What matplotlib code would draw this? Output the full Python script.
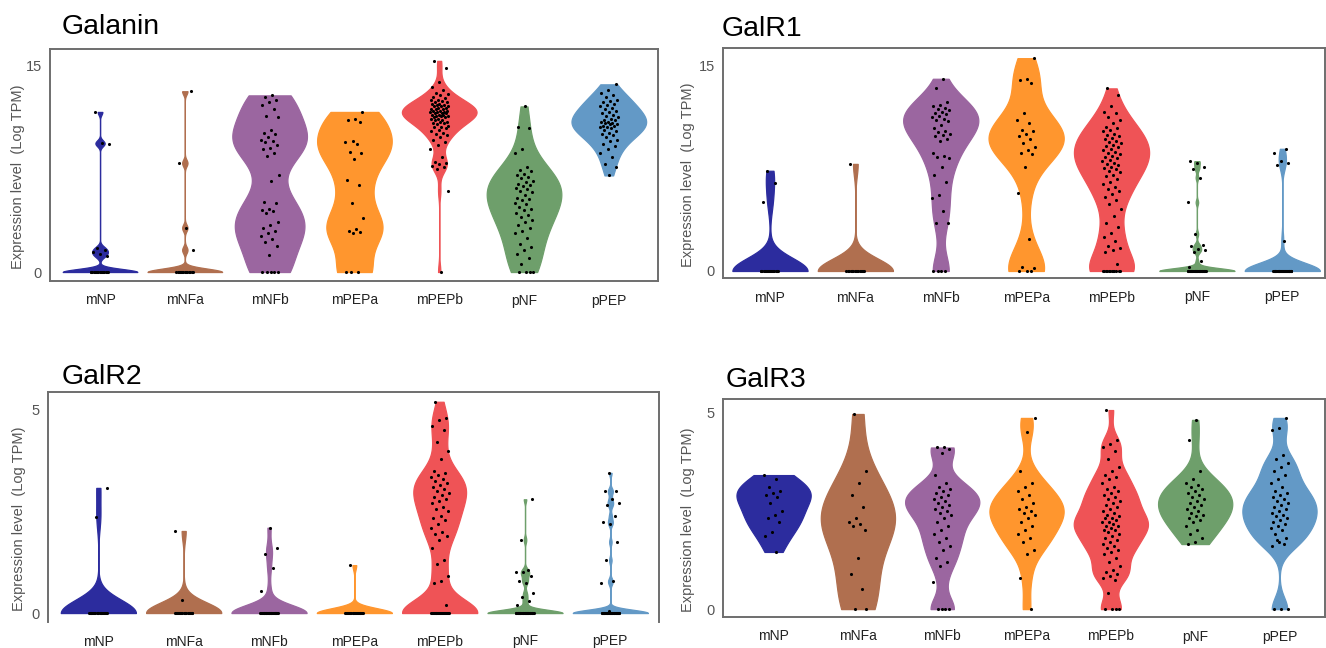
import numpy as np
import matplotlib
matplotlib.use("Agg")
import matplotlib.pyplot as plt

plt.rcParams['font.family'] = ['Liberation Sans', 'DejaVu Sans']

categories = ['mNP', 'mNFa', 'mNFb', 'mPEPa', 'mPEPb', 'pNF', 'pPEP']
colors = ['#2c2c9e', '#b06f4f', '#9b66a0', '#ff962e', '#ef5356', '#6e9f6b', '#6399c6']

# ---------------- Galanin ----------------
galanin_mNP = [0, 0, 0, 0, 0, 0, 0, 0, 0, 0, 0, 0, 0, 0, 0, 0,
               1.15, 1.3, 1.45, 1.6, 1.75, 9.3, 9.35, 11.6]
galanin_mNFa = [0, 0, 0, 0, 0, 0, 0, 0, 0, 0, 0, 0, 0, 0, 1.6, 3.2, 7.9, 13.1]
galanin_mNFb = [12.8, 12.7, 12.5, 12.3, 12.1, 11.8, 11.3, 11.2, 10.3, 10.1, 10.0, 9.8, 9.6,
                9.5, 9.4, 9.2, 9.0, 8.9, 8.6, 8.4, 7.0, 6.6, 5.1, 5.0, 4.6, 4.5, 4.4, 4.3,
                3.6, 3.4, 3.2, 3.0, 2.8, 2.6, 2.4, 2.2, 1.9, 1.2, 0, 0, 0, 0, 0]
galanin_mPEPa = [11.6, 11.1, 11.0, 10.9, 9.5, 9.4, 9.3, 8.7, 8.6, 8.2, 6.7, 6.3, 5.0, 3.9,
                 3.1, 3.0, 2.9, 2.8, 0, 0, 0]
galanin_mPEPb = [15.3, 14.8, 13.8, 13.4, 13.2, 13.0, 12.9, 12.8, 12.7, 12.6, 12.5, 12.5, 12.4,
                 12.3, 12.3, 12.2, 12.2, 12.1, 12.1, 12.0, 12.0, 12.0, 11.9, 11.9, 11.8, 11.8,
                 11.8, 11.7, 11.7, 11.7, 11.6, 11.6, 11.6, 11.5, 11.5, 11.5, 11.4, 11.4, 11.4,
                 11.3, 11.3, 11.3, 11.2, 11.2, 11.1, 11.1, 11.0, 11.0, 10.9, 10.9, 10.8, 10.8,
                 10.7, 10.6, 10.5, 10.5, 10.4, 10.3, 10.2, 10.1, 10.0, 9.9, 9.8, 9.6, 9.4, 9.2,
                 8.9, 8.3, 8.0, 7.9, 7.8, 7.7, 7.6, 7.5, 5.9, 0]
galanin_pNF = [12.0, 10.5, 10.4, 8.9, 8.6, 7.6, 7.4, 7.3, 7.1, 7.0, 6.9, 6.8, 6.6, 6.5, 6.4,
               6.3, 6.2, 6.1, 6.0, 5.9, 5.8, 5.6, 5.4, 5.3, 5.2, 5.0, 4.9, 4.7, 4.6, 4.5, 4.3,
               4.1, 4.0, 3.8, 3.6, 3.4, 3.2, 3.0, 2.8, 2.5, 2.0, 1.8, 1.6, 1.3, 1.0, 0.6,
               0, 0, 0, 0]
galanin_pPEP = [13.6, 13.2, 13.0, 12.8, 12.7, 12.5, 12.4, 12.3, 12.2, 12.1, 12.0, 11.9, 11.8,
                11.7, 11.6, 11.5, 11.4, 11.3, 11.2, 11.1, 11.0, 11.0, 10.9, 10.9, 10.8, 10.8,
                10.7, 10.7, 10.6, 10.6, 10.5, 10.5, 10.4, 10.3, 10.2, 10.1, 10.0, 9.9, 9.8,
                9.6, 9.5, 9.3, 9.1, 8.9, 8.6, 8.3, 7.8, 7.6, 7.0]

# ---------------- GalR1 ----------------
galr1_mNP = [0, 0, 0, 0, 0, 0, 0, 0, 0, 0, 0, 0, 0, 0, 0, 0, 0, 0, 5.0, 6.4, 7.3]
galr1_mNFa = [0, 0, 0, 0, 0, 0, 0, 0, 0, 0, 0, 0, 0, 0, 0, 0, 7.8]
galr1_mNFb = [14.0, 13.3, 12.3, 12.1, 12.0, 11.9, 11.8, 11.7, 11.6, 11.5, 11.4, 11.3, 11.2,
              11.1, 11.0, 10.9, 10.6, 10.4, 10.2, 10.1, 10.0, 9.9, 9.8, 9.6, 9.5, 8.6, 8.4,
              8.3, 8.2, 7.6, 7.0, 6.5, 5.5, 5.3, 4.4, 3.5, 3.5, 0, 0, 0, 0]
galr1_mPEPa = [15.5, 14.0, 13.9, 13.7, 11.5, 11.0, 10.8, 10.3, 10.2, 10.0, 9.8, 9.6, 9.3, 9.0,
               8.8, 8.6, 8.5, 7.6, 5.7, 2.3, 0.3, 0.2, 0, 0, 0]
galr1_mPEPb = [13.3, 12.8, 12.0, 11.6, 11.5, 11.2, 11.0, 10.8, 10.5, 10.4, 10.3, 10.2, 10.0,
               9.9, 9.8, 9.7, 9.6, 9.5, 9.4, 9.3, 9.2, 9.1, 9.0, 8.9, 8.8, 8.7, 8.6, 8.5, 8.4,
               8.3, 8.2, 8.1, 8.0, 7.9, 7.8, 7.7, 7.6, 7.5, 7.4, 7.3, 7.2, 7.0, 6.9, 6.7, 6.5,
               6.3, 6.1, 6.0, 5.8, 5.6, 5.4, 5.2, 4.9, 4.5, 4.0, 3.5, 3.2, 2.8, 2.5, 2.2, 1.8,
               1.7, 1.5, 1.4, 0.5, 0, 0, 0, 0, 0, 0, 0, 0, 0, 0, 0, 0]
galr1_pNF = [0, 0, 0, 0, 0, 0, 0, 0, 0, 0, 0, 0, 0, 0, 0, 0, 0, 0, 0, 0, 0, 0, 0, 0, 0,
             0, 0, 0, 0, 0, 0.3, 0.7, 1.4, 1.5, 1.6, 1.8, 1.9, 2.7, 5.0, 6.8, 7.4, 7.6, 7.9, 8.0]
galr1_pPEP = [0, 0, 0, 0, 0, 0, 0, 0, 0, 0, 0, 0, 0, 0, 0, 0, 0, 0, 0, 0, 0, 0, 0, 0, 0,
              0, 0, 0, 0, 0, 0, 0, 0, 0, 0, 0, 0, 0, 0, 0,
              2.2, 7.7, 7.9, 8.0, 8.6, 8.9]

# ---------------- GalR2 ----------------
galr2_mNP = [0, 0, 0, 0, 0, 0, 0, 0, 0, 0, 0, 0, 0, 0, 0, 0, 0, 0, 0, 0, 2.37, 3.08]
galr2_mNFa = [0, 0, 0, 0, 0, 0, 0, 0, 0, 0, 0, 0, 0, 0, 0, 0, 0, 0, 0.32, 2.02]
galr2_mNFb = [0, 0, 0, 0, 0, 0, 0, 0, 0, 0, 0, 0, 0, 0, 0, 0, 0, 0, 0, 0, 0, 0, 0, 0, 0,
              0.55, 1.1, 1.45, 1.6, 2.1]
galr2_mPEPa = [0, 0, 0, 0, 0, 0, 0, 0, 0, 0, 0, 0, 0, 0, 0, 0, 0, 0, 0, 0, 1.18]
galr2_mPEPb = [5.2, 4.8, 4.75, 4.6, 4.5, 4.2, 4.0, 3.8, 3.5, 3.45, 3.4, 3.35, 3.3, 3.25, 3.2,
               3.15, 3.1, 3.05, 3.0, 2.95, 2.9, 2.85, 2.8, 2.75, 2.7, 2.6, 2.55, 2.5, 2.4,
               2.35, 2.3, 2.2, 2.1, 2.0, 1.95, 1.9, 1.8, 1.6, 1.3, 1.2, 0.9, 0.8, 0.75, 0.2,
               0, 0, 0, 0, 0, 0, 0, 0, 0, 0, 0, 0, 0, 0, 0, 0, 0, 0, 0, 0]
galr2_pNF = [0, 0, 0, 0, 0, 0, 0, 0, 0, 0, 0, 0, 0, 0, 0, 0, 0, 0, 0, 0, 0, 0, 0, 0, 0, 0,
             0, 0, 0, 0, 0.2, 0.3, 0.4, 0.5, 0.75, 0.8, 0.9, 1.0, 1.0, 1.05, 1.8, 2.8]
galr2_pPEP = [0, 0, 0, 0, 0, 0, 0, 0, 0, 0, 0, 0, 0, 0, 0, 0, 0, 0, 0, 0, 0, 0, 0, 0, 0, 0,
              0, 0, 0, 0, 0.05, 0.75, 0.8, 1.3, 1.75, 2.2, 2.25, 2.4, 2.65, 2.7, 2.8, 3.0,
              3.0, 3.45]

# ---------------- GalR3 ----------------
galr3_mNP = [3.4, 3.3, 3.1, 3.0, 2.95, 2.9, 2.85, 2.7, 2.5, 2.4, 2.3, 2.2, 1.95, 1.85, 1.45]
galr3_mNFa = [4.95, 3.5, 3.2, 2.9, 2.6, 2.3, 2.2, 2.15, 2.1, 2.0, 1.3, 0.9, 0.5, 0, 0]
galr3_mNFb = [4.1, 4.1, 4.05, 3.95, 3.4, 3.2, 3.1, 3.05, 3.0, 2.95, 2.9, 2.85, 2.8, 2.75, 2.7,
              2.65, 2.6, 2.55, 2.5, 2.45, 2.4, 2.3, 2.2, 2.1, 2.0, 1.9, 1.8, 1.7, 1.6, 1.5,
              1.3, 1.2, 1.1, 0.7, 0, 0, 0, 0]
galr3_mPEPa = [4.85, 4.5, 3.5, 3.2, 3.1, 3.0, 2.9, 2.8, 2.7, 2.6, 2.55, 2.5, 2.45, 2.4, 2.3,
               2.2, 2.1, 2.0, 1.9, 1.8, 1.7, 1.5, 1.4, 0.8, 0]
galr3_mPEPb = [5.05, 4.3, 4.2, 4.1, 4.0, 3.8, 3.6, 3.5, 3.4, 3.35, 3.3, 3.2, 3.1, 3.05, 3.0,
               2.95, 2.9, 2.85, 2.8, 2.75, 2.7, 2.65, 2.6, 2.55, 2.5, 2.45, 2.4, 2.35, 2.3,
               2.3, 2.25, 2.2, 2.2, 2.15, 2.1, 2.1, 2.05, 2.0, 2.0, 1.95, 1.9, 1.85, 1.8, 1.75,
               1.7, 1.65, 1.6, 1.55, 1.5, 1.45, 1.4, 1.3, 1.2, 1.1, 1.0, 0.95, 0.9, 0.85, 0.8,
               0.75, 0.4, 0, 0, 0, 0]
galr3_pNF = [4.8, 4.3, 3.5, 3.3, 3.2, 3.15, 3.1, 3.05, 3.0, 2.95, 2.9, 2.85, 2.8, 2.75, 2.7,
             2.65, 2.6, 2.55, 2.5, 2.45, 2.4, 2.35, 2.3, 2.25, 2.2, 2.1, 2.0, 1.9, 1.8, 1.7, 1.65]
galr3_pPEP = [4.85, 4.6, 4.55, 3.9, 3.8, 3.7, 3.6, 3.5, 3.4, 3.3, 3.2, 3.1, 3.0, 2.95, 2.9,
              2.85, 2.8, 2.75, 2.7, 2.65, 2.6, 2.55, 2.5, 2.45, 2.4, 2.35, 2.3, 2.25, 2.2,
              2.15, 2.1, 2.05, 2.0, 1.9, 1.8, 1.7, 1.6, 1.65, 1.75, 0, 0, 0]

titles = ['Galanin', 'GalR1', 'GalR2', 'GalR3']
ytick_values = [[0, 15], [0, 15], [0, 5], [0, 5]]
ylabel_text = 'Expression level  (Log TPM)'

panel_data = [
    [galanin_mNP, galanin_mNFa, galanin_mNFb, galanin_mPEPa, galanin_mPEPb, galanin_pNF, galanin_pPEP],
    [galr1_mNP, galr1_mNFa, galr1_mNFb, galr1_mPEPa, galr1_mPEPb, galr1_pNF, galr1_pPEP],
    [galr2_mNP, galr2_mNFa, galr2_mNFb, galr2_mPEPa, galr2_mPEPb, galr2_pNF, galr2_pPEP],
    [galr3_mNP, galr3_mNFa, galr3_mNFb, galr3_mPEPa, galr3_mPEPb, galr3_pNF, galr3_pPEP],
]

# ---- styling / layout (pixels) ----
W, H = 1326, 648
# kernel bandwidths in data units (style)
bandwidths = [
    [0.22, 0.25, 1.35, 1.3, 0.55, 1.35, 0.8],
    [0.95, 0.9, 1.2, 1.4, 1.1, 0.2, 0.6],
    [0.33, 0.25, 0.2, 0.12, 0.33, 0.08, 0.08],
    [0.3, 0.7, 0.3, 0.35, 0.25, 0.35, 0.3],
]
boxes = [  # left, top, right, bottom in px
    (50, 49, 658, 281),
    (723, 48, 1325, 278),
    (48, 392, 659, 622),
    (723, 399, 1325, 617),
]
ylims = [(-0.65, 16.16), (-0.51, 16.24), (-0.22, 5.44), (-0.20, 5.33)]
xlims = [(-0.59, 6.58), (-0.55, 6.5), (-0.59, 6.57), (-0.6, 6.54)]
title_pos = [(62, 34), (722, 36), (62, 384), (726, 387)]
ylabel_x = [18, 688, 19, 688]

fig = plt.figure(figsize=(W / 100, H / 100), dpi=100)
fig.patch.set_facecolor('white')

for p in range(4):
    l, t, r, b = boxes[p]
    ax = fig.add_axes([l / W, 1 - b / H, (r - l) / W, (b - t) / H])
    for i, vals in enumerate(panel_data[p]):
        arr = np.asarray(vals, dtype=float)
        sd = np.std(arr, ddof=1)
        factor = bandwidths[p][i] / sd
        parts = ax.violinplot([arr], positions=[i], widths=0.88, showextrema=False,
                              bw_method=factor, points=500)
        for body in parts['bodies']:
            body.set_facecolor(colors[i])
            body.set_edgecolor(colors[i])
            body.set_alpha(1)
            body.set_linewidth(0.9)
        k = np.arange(len(arr))
        jit = ((k * 0.6180339887 + 0.31 * i) % 1.0 - 0.5) * 0.22
        ax.scatter(i + jit, arr, s=5, color='black', linewidths=0, zorder=3)
    ax.set_xlim(*xlims[p])
    ax.set_ylim(*ylims[p])
    ax.set_xticks(range(len(categories)))
    ax.set_xticklabels(categories, fontsize=10, color='#222222')
    ax.set_yticks(ytick_values[p])
    ax.set_yticklabels([str(v) for v in ytick_values[p]], fontsize=10.5, color='#555555')
    ax.tick_params(axis='both', length=0)
    ax.tick_params(axis='x', pad=9)
    ax.tick_params(axis='y', pad=6)
    for s in ax.spines.values():
        s.set_color('#6e6e6e')
        s.set_linewidth(1.4)
    if p == 2:
        ax.spines['bottom'].set_visible(False)
    tx, ty = title_pos[p]
    fig.text(tx / W, 1 - ty / H, titles[p], fontsize=20.5, color='black',
             ha='left', va='baseline')
    fig.text(ylabel_x[p] / W, 1 - ((t + b) / 2 + 12) / H, ylabel_text, rotation=90,
             fontsize=10.5, color='#555555', ha='center', va='center')

fig.savefig('out.png', dpi=100, facecolor='white')
